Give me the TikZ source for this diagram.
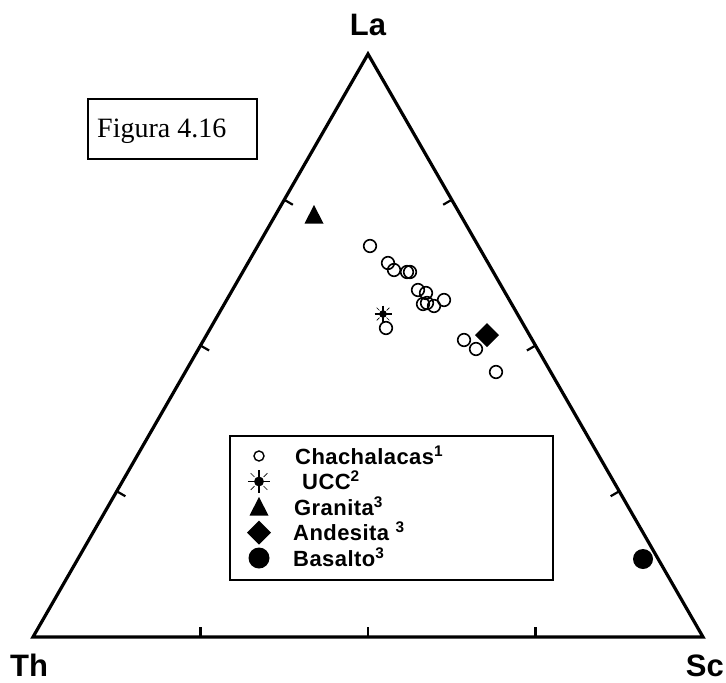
\documentclass[tikz,border=0pt]{standalone}
\usepackage{fontspec}
\setmainfont{Liberation Sans}
\newfontfamily\legfont[LetterSpace=2]{Liberation Sans}
\newfontfamily\figfont{Liberation Serif}
\usetikzlibrary{calc}
\begin{document}
\begin{tikzpicture}[x=1pt,y=-1pt,
  axis/.style={line width=3.2pt,line join=miter},
  tickmark/.style={line width=2.2pt},
  datapt/.style={draw,line width=1.6pt},
  frame/.style={draw,line width=1.3pt},
  legtext/.style={anchor=base west,inner sep=0pt,font=\legfont\bfseries\fontsize{22}{24}\selectfont},
  corner/.style={font=\bfseries\fontsize{31}{34}\selectfont,inner sep=0pt},
  ucc/.pic={\fill (0,0) circle (3.8);
    \draw[line width=1.4pt] (-8.5,0)--(8.5,0) (0,-8.5)--(0,8.5);
    \draw[line width=0.7pt] (45:5)--(45:9) (135:5)--(135:9) (-45:5)--(-45:9) (-135:5)--(-135:9);},
  gtri/.pic={\fill (0,-10) -- (9.5,8.5) -- (-9.5,8.5) -- cycle;},
  gdia/.pic={\fill (0,-12) -- (12,0) -- (0,12) -- (-12,0) -- cycle;}
]
\useasboundingbox (0,0) rectangle (726,683);
\coordinate (Th) at (33,637);
\coordinate (Sc) at (703,637);
\coordinate (La) at (368,54);
\draw[axis] (Th) -- (Sc) -- (La) -- cycle;
\foreach \f in {0.25,0.5,0.75}{
  \draw[tickmark] ($(Th)!\f!(Sc)$) -- ++(0,-10);
  \draw[tickmark] ($(Th)!\f!(La)$) -- ++(8.6,5);
  \draw[tickmark] ($(Sc)!\f!(La)$) -- ++(-8.6,5);
}
\node[corner] (lLa) at (368,25) {La};
\node[corner, anchor=base] (lTh) at (29,676) {Th};
\node[corner, anchor=base east] (lSc) at (724,676) {Sc};

\draw[frame] (88,99) rectangle (257,159);
\node[anchor=base west,inner sep=0pt,font=\figfont\fontsize{28}{30}\selectfont] (fig) at (97,137) {Figura 4.16};

\foreach \p in {(370,246),(388,263),(394,270),(407,272),(410,272),(418,290),(426,293),(423,304),(427,303),(434,306),(444,300),(386,328),(464,340),(476,349),(496,372)}
  \draw[datapt] \p circle (6.3);
\pic at (383,314) {ucc};
\pic at (314,215) {gtri};
\pic at (487,335) {gdia};
\fill (643,559) circle (10);

\draw[frame] (230,436) rectangle (553,580);
\draw[line width=1.4pt] (259,456) circle (5);
\pic[scale=1.3] at (259,481.5) {ucc};
\pic[scale=1.0] at (259,507) {gtri};
\pic[scale=1.0] at (259,532.5) {gdia};
\fill (259,558) circle (10.5);
\node[legtext] (t1) at (295,464) {Chachalacas\textsuperscript{1}};
\node[legtext] (t2) at (302,489.5) {UCC\textsuperscript{2}};
\node[legtext] (t3) at (294,515) {Granita\textsuperscript{3}};
\node[legtext] (t4) at (293,540.5) {Andesita \textsuperscript{3}};
\node[legtext] (t5) at (293,566) {Basalto\textsuperscript{3}};
\end{tikzpicture}
\end{document}
